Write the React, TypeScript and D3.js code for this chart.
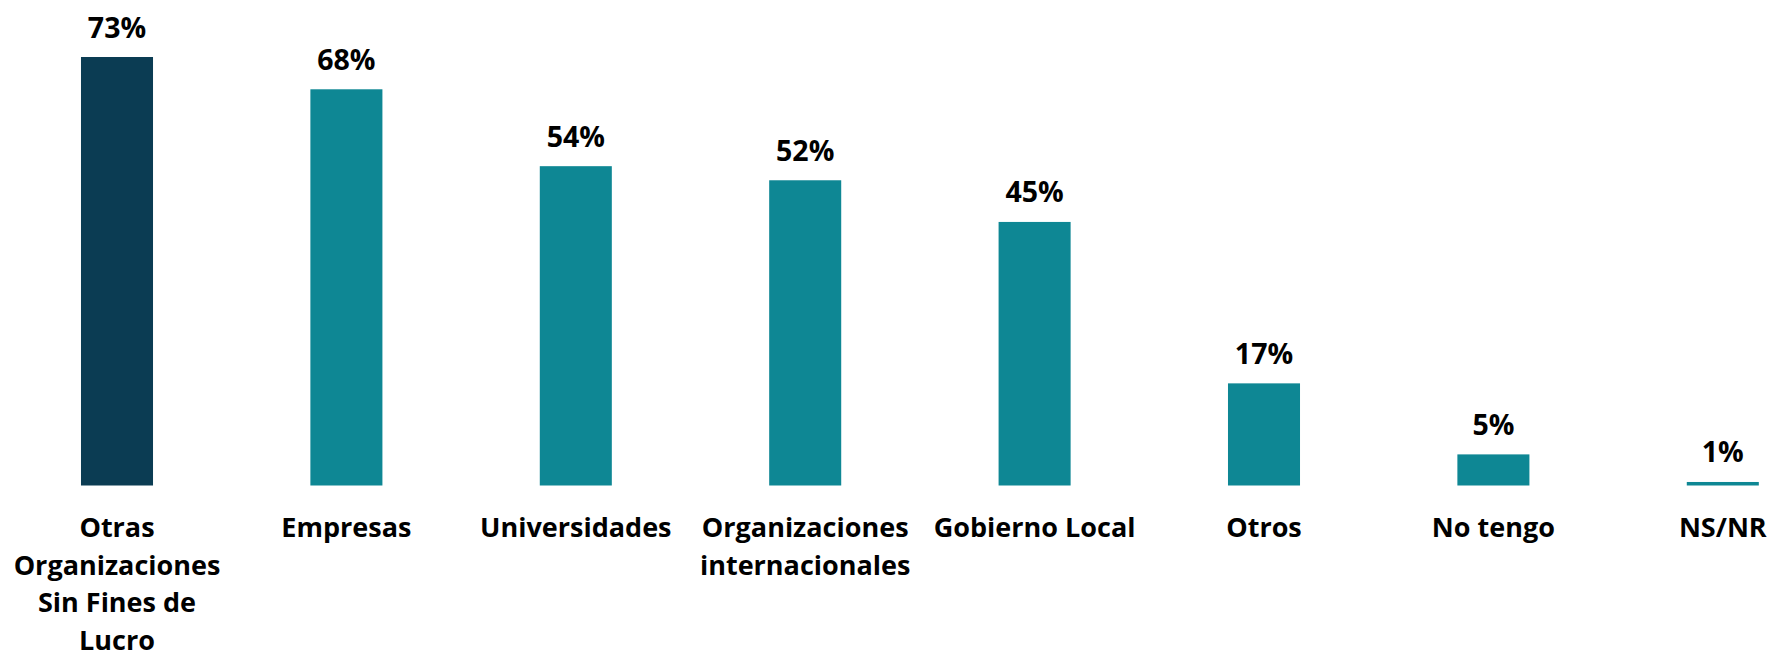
import React, { useEffect, useRef } from 'react';
import * as d3 from 'd3';

// categories, each split into the lines shown under the bar
const categories = [
  ['Otras', 'Organizaciones', 'Sin Fines de', 'Lucro'],
  ['Empresas'],
  ['Universidades'],
  ['Organizaciones', 'internacionales'],
  ['Gobierno Local'],
  ['Otros'],
  ['No tengo'],
  ['NS/NR'],
];
const values = [73, 67.5, 54.4, 52, 44.9, 17.4, 5.3, 0.6];
const valueLabels = ['73%', '68%', '54%', '52%', '45%', '17%', '5%', '1%'];
const highlight = [true, false, false, false, false, false, false, false];

const App = () => {
  const svgRef = useRef(null);

  useEffect(() => {
    const width = 1772;
    const height = 656;
    const svg = d3.select(svgRef.current);
    svg.selectAll('*').remove();

    const font = "'Open Sans', sans-serif";
    const ids = categories.map((c, i) => String(i));

    const x = d3.scaleBand()
      .domain(ids)
      .range([2.3, 1837.5])
      .paddingInner(0.686)
      .paddingOuter(0.343);

    const y = d3.scaleLinear()
      .domain([0, 73])
      .range([485.5, 57]);

    const g = svg.append('g');

    g.selectAll('rect.bar')
      .data(values)
      .enter().append('rect')
      .attr('class', 'bar')
      .attr('x', (d, i) => x(ids[i]))
      .attr('width', x.bandwidth())
      .attr('y', d => y(d))
      .attr('height', d => y(0) - y(d))
      .attr('fill', (d, i) => (highlight[i] ? '#0b3c53' : '#0e8794'));

    // value labels above bars
    g.selectAll('text.value')
      .data(values)
      .enter().append('text')
      .attr('class', 'value')
      .attr('x', (d, i) => x(ids[i]) + x.bandwidth() / 2)
      .attr('y', d => y(d) - 19.5)
      .attr('text-anchor', 'middle')
      .style('font-family', font)
      .style('font-weight', 700)
      .style('font-size', '28.5px')
      .attr('fill', '#000')
      .text((d, i) => valueLabels[i]);

    // category labels
    const cat = g.selectAll('text.cat')
      .data(categories)
      .enter().append('text')
      .attr('class', 'cat')
      .attr('text-anchor', 'middle')
      .style('font-family', font)
      .style('font-weight', 700)
      .style('font-size', '27px')
      .attr('fill', '#000');

    cat.each(function (lines, i) {
      const cx = x(ids[i]) + x.bandwidth() / 2;
      d3.select(this).selectAll('tspan')
        .data(lines)
        .enter().append('tspan')
        .attr('x', cx)
        .attr('y', (l, j) => 537 + j * 37.5)
        .text(l => l);
    });

    svg.attr('width', width).attr('height', height);
  }, []);

  return (
    <svg
      ref={svgRef}
      width="1772"
      height="656"
      style={{ position: 'absolute', left: 0, top: 0, background: '#fff' }}
    ></svg>
  );
};

export default App;
